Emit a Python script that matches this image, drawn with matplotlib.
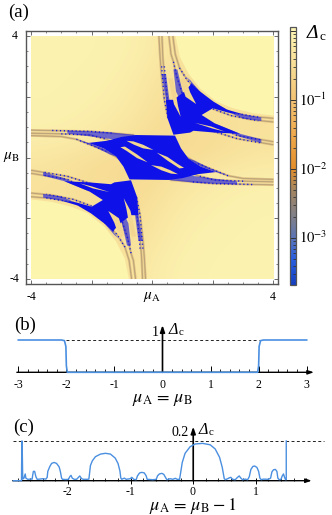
import numpy as np
import matplotlib
matplotlib.use('Agg')
import matplotlib.pyplot as plt
from matplotlib.colors import LinearSegmentedColormap, LogNorm
from matplotlib.colorbar import Colorbar
from matplotlib.ticker import LogLocator, FixedLocator, NullFormatter

plt.rcParams['font.family'] = ['Liberation Serif', 'DejaVu Serif']
plt.rcParams['mathtext.fontset'] = 'stix'

W, H = 332, 515
BLUE = '#0E12E8'
LINE = '#4A8FE0'
PALE = '#FBF5AE'
GOLD = '#F3D68F'

# log10 of the smooth background of panel (a); rows y=4..-4, columns x=-4..4
bg_row_p4 = [-.03, -.03, -.04, -.07, -.18, -.40, -.35, -.03, -.03]
bg_row_p3 = [-.03, -.04, -.06, -.12, -.30, -.50, -.40, -.35, -.03]
bg_row_p2 = [-.04, -.06, -.10, -.20, -.40, -.50, -.45, -.40, -.40]
bg_row_p1 = [-.08, -.12, -.20, -.32, -.50, -.55, -.50, -.45, -.40]
bg_row_00 = [-.30, -.40, -.50, -.55, -.60, -.55, -.50, -.40, -.30]
bg_row_m1 = bg_row_p1[::-1]
bg_row_m2 = bg_row_p2[::-1]
bg_row_m3 = bg_row_p3[::-1]
bg_row_m4 = bg_row_p4[::-1]

# outer edge of the gapped region (upper right; the lower left mirrors it)
edge_x = [0.77, 0.91, 1.19, 1.57, 2.12, 2.67, 3.33, 4.0]
edge_y = [4.0, 3.32, 2.77, 2.28, 1.84, 1.62, 1.46, 1.38]

# solid low-gap region, upper right
ur_x = [.70, .50, .45, .70, 1.10, 1.30, 1.58, 2.02, 2.46, 3.0, 2.5, 2.0, 1.63, 2.07, 2.9, 2.07, 1.36, 1.25]
ur_y = [.75, 1.30, 1.90, 1.90, 2.20, 2.44, 2.17, 1.84, 1.58, 1.42, 1.48, 1.62, 1.40, 1.12, .78, .82, .88, .82]
# solid low-gap region, centre
mid_x = [.752, .95, 1.19, 1.6, 2.1, 1.5, 1.0, .53, -.75, -.95, -1.19, -1.6, -2.1, -1.5, -1.0, -.53]
mid_y = [.72, .30, -.03, -.30, -.48, -.55, -.68, -.74, -.72, -.30, .03, .30, .48, .55, .68, .74]

# bright slits cut into the solid regions
slits_ur = [
    ([.94, .72, .62, .53, .68, .78, .85], [1.34, 1.75, 2.2, 2.6, 2.6, 2.1, 1.7]),
    ([1.45, 1.10, .92, 1.08, 1.25], [1.76, 2.0, 2.55, 2.65, 2.15]),
    ([1.41, 2.0, 2.4, 1.95], [1.14, .95, .85, 1.02]),
]
slits_mid = [
    ([.04, -.30, -.62, -.85, -.60, -.30], [.25, .42, .53, .55, .42, .30]),
    ([-.15, -.50, -.90, -1.05, -.85, -.50], [-.16, .10, .36, .34, .22, -.02]),
]

# zones where blue dots mix with the strands
zones = [
    ([.31, .455, .61, .565, .455], [2.75, 2.75, 1.56, 1.34, 1.89]),
    ([.70, .83, 1.08, .92, .785], [2.9, 2.9, 1.84, 1.89, 2.17]),
    ([1.115, 1.25, 1.58, 1.30], [2.66, 2.55, 2.17, 2.44]),
    ([2.5, 3.0, 3.6, 3.6, 3.0], [1.50, 1.42, 1.32, 1.2, 1.28]),
    ([2.07, 2.9, 3.6, 3.6, 2.9], [1.12, .78, .60, .48, .68]),
    ([-.53, -1.5, -2.8, -2.8, -1.3, -.75], [.74, .84, .89, .79, .60, .30]),
    ([-1.19, -1.6, -2.1, -2.5, -1.9, -1.4], [.03, .30, .48, .60, .35, .10]),
]

# strands
strands = [
    ([.22, .26, .31, .40, .52], [4, 3.3, 2.66, 1.9, 1.3]),
    ([.32, .35, .40, .50, .62], [4, 3.3, 2.66, 1.9, 1.3]),
    ([.55, .62, .70, .81, 1.08, 1.2], [4, 3.4, 3.15, 2.66, 1.84, 1.6]),
    ([.68, .76, .90, 1.15, 1.5, 2.0, 2.6, 3.3, 4], [4, 3.4, 2.95, 2.55, 2.2, 1.78, 1.48, 1.35, 1.29]),
    ([2.0, 2.6, 3.3, 4], [1.60, 1.38, 1.24, 1.17]),
    ([1.6, 2.07, 2.8, 4], [1.25, 1.08, .72, .52]),
    ([1.4, 1.9, 2.8, 4], [1.0, .90, .62, .42]),
    ([-4, -3, -2.05, -1.3, -.6], [.90, .88, .86, .80, .74]),
    ([-4, -3, -2.05, -1.5, -1.0, -.5], [.80, .78, .74, .60, .35, .18]),
    ([-4, -3, -2.5, -2.05, -1.5, -1.0], [.72, .69, .60, .42, .20, -.10]),
]
speckle = [
    ([.31, .40, .52], [3.0, 1.9, 1.3]),
    ([.40, .50, .62], [3.0, 1.9, 1.3]),
    ([.70, .81, 1.08], [3.15, 2.66, 1.84]),
    ([.90, 1.15, 1.5, 2.0], [2.95, 2.55, 2.2, 1.78]),
    ([2.0, 2.6, 3.5], [1.78, 1.48, 1.33]),
    ([2.0, 2.6, 3.5], [1.60, 1.38, 1.21]),
    ([2.07, 2.8, 3.6], [1.08, .72, .58]),
    ([1.9, 2.8, 3.6], [.90, .62, .48]),
    ([-3.3, -2.05, -1.3], [.89, .86, .80]),
    ([-3.0, -2.05, -1.5], [.78, .74, .60]),
    ([-2.5, -2.05, -1.5], [.60, .42, .20]),
]

# panel (b)
xb = [-3.0, -2.1, -2.04, -2.01, -2.0, -1.98, 1.98, 2.0, 2.01, 2.04, 2.1, 3.0]
yb = [1.0, 1.0, 0.98, 0.8, 0.2, 0.0, 0.0, 0.2, 0.8, 0.98, 1.0, 1.0]
xb_ticks = [-3, -2, -1, 0, 1, 2, 3]

# panel (c)
xc = [-2.87, -2.74, -2.734, -2.73, -2.72, -2.70, -2.68, -2.67, -2.64, -2.60, -2.57, -2.56, -2.55, -2.53, -2.51,
      -2.49, -2.45, -2.40, -2.35, -2.33, -2.32, -2.29, -2.26, -2.22, -2.18, -2.14, -2.12, -2.10, -2.085, -2.03,
      -1.99, -1.97, -1.95, -1.93, -1.90, -1.86, -1.81, -1.78, -1.75, -1.69, -1.665, -1.655, -1.64, -1.61, -1.56,
      -1.48, -1.40, -1.32, -1.245, -1.20, -1.17, -1.155, -1.14, -1.10, -1.07, -1.005, -0.98, -0.95, -0.91, -0.89,
      -0.856, -0.82, -0.78, -0.75, -0.735, -0.645, -0.59, -0.57, -0.54, -0.50, -0.47, -0.436, -0.42, -0.367,
      -0.325, -0.287, -0.255, -0.218, -0.20, -0.175, -0.13, -0.05, 0.03, 0.15, 0.27, 0.35, 0.42, 0.463, 0.495,
      0.516, 0.58, 0.60, 0.628, 0.67, 0.707, 0.734, 0.76, 0.787, 0.83, 0.867, 0.894, 0.92, 0.952, 0.98, 1.016,
      1.043, 1.064, 1.085, 1.12, 1.20, 1.234, 1.255, 1.28, 1.31, 1.335, 1.35, 1.372, 1.40, 1.42, 1.44, 1.457,
      1.473, 1.484, 1.484]
yc = [.0, .0, .2, .2, .008, .013, .034, .013, .007, .008, .008, .03, .047, .047, .02,
      .007, .008, .010, .008, .017, .047, .07, .087, .092, .087, .07, .047, .013, .007, .006,
      .007, .02, .027, .013, .007, .007, .024, .01, .007, .007, .008, .034, .076, .10, .121,
      .134, .138, .134, .114, .087, .05, .013, .007, .013, .007, .01, .017, .007, .005, .024,
      .039, .042, .039, .024, .007, .005, .007, .024, .034, .037, .032, .013, .005, .01,
      .007, .012, .007, .007, .042, .092, .138, .171, .185, .188, .181, .16, .118, .067, .01,
      .005, .015, .017, .007, .005, .017, .024, .013, .005, .008, .005, .02, .057, .072, .074, .067,
      .047, .013, .005, .008, .007, .013, .044, .055, .057, .047, .013, .005, .007, .024, .034, .017,
      .005, .005, .2]
xc_ticks = [-2, -1, 0, 1]

cbar_colors = [(-3.68, '#1440C0'), (-3.3, '#2A5FE0'), (-3.0, '#5A74B8'), (-2.7, '#80808A'),
               (-2.3, '#A58660'), (-2.0, '#E48E2A'), (-1.5, '#EFA94C'), (-1.0, '#F3C272'),
               (-0.5, '#F7DD96'), (0.06, '#FDF6B5')]


def axpx(l, t, r, b):
    return fig.add_axes([l / W, 1 - b / H, (r - l) / W, (b - t) / H])


fig = plt.figure(figsize=(W / 100, H / 100), dpi=100)


def label(px, py, s, size, **kw):
    fig.text(px / W, 1 - py / H, s, fontsize=size, ha='center', va='center', **kw)


def delta(px, py, size):
    label(px, py, '\u0394', size, style='italic')
    label(px + size * 0.72, py + size * 0.22, 'c', size * 0.68)


cmap = LinearSegmentedColormap.from_list(
    'gap', [((v + 3.68) / 3.74, c) for v, c in cbar_colors])
norm = LogNorm(10 ** -3.68, 10 ** 0.06)

# ---- panel (a)
ax = axpx(26, 31, 278, 284)
grid = np.array([bg_row_p4, bg_row_p3, bg_row_p2, bg_row_p1, bg_row_00,
                 bg_row_m1, bg_row_m2, bg_row_m3, bg_row_m4])
ax.imshow(10.0 ** grid, extent=[-4, 4, -4, 4], origin='upper', cmap=cmap, norm=norm,
          interpolation='bicubic', aspect='auto', zorder=1)
for s in (1, -1):
    ax.fill(np.array(edge_x + [4.0]) * s, np.array(edge_y + [4.0]) * s, color=PALE, lw=0, zorder=2)
    for sx, sy in strands:
        ax.plot(np.array(sx) * s, np.array(sy) * s, color='#DFC084', lw=1.7, zorder=3, solid_capstyle='butt')
    for sx, sy in strands:
        ax.plot(np.array(sx) * s, np.array(sy) * s, color='#B6A079', lw=0.6, zorder=3, solid_capstyle='butt')
    for zx, zy in zones:
        ax.fill(np.array(zx) * s, np.array(zy) * s, color=BLUE, alpha=0.6, lw=0, zorder=4)
    ax.fill(np.array(ur_x) * s, np.array(ur_y) * s, color=BLUE, lw=0, zorder=5)
    for sx, sy in slits_ur + slits_mid:
        ax.fill(np.array(sx) * s, np.array(sy) * s, color=GOLD, lw=0, zorder=6)
    for sx, sy in speckle:
        ax.plot(np.array(sx) * s, np.array(sy) * s, color=BLUE, lw=1.0, ls=(0, (0.8, 2.0)), zorder=7)
ax.fill(mid_x, mid_y, color=BLUE, lw=0, zorder=5)

ax.set_xlim(-4.165, 4.15)
ax.set_ylim(-4.165, 4.165)
for sp in ax.spines.values():
    sp.set_color('#555555')
    sp.set_linewidth(1.0)
ax.set_xticks([-4, -2, 0, 2, 4])
ax.set_yticks([-4, -2, 0, 2, 4])
ax.set_xticks(np.arange(-4, 4.01, 0.5), minor=True)
ax.set_yticks(np.arange(-4, 4.01, 0.5), minor=True)
ax.tick_params(which='major', direction='in', length=3, width=0.6, color='#555555',
               top=True, right=True, labelbottom=False, labelleft=False)
ax.tick_params(which='minor', direction='in', length=1.5, width=0.5, color='#555555', top=True, right=True)

label(19, 12, '(a)', 13.5)
label(15, 36, '4', 8.5)
label(14, 279, '-4', 8.5)
label(31, 297, '-4', 8.5)
label(273, 297, '4', 8.5)
label(152, 297, r'$\mu_{\mathrm{A}}$', 11)
label(11, 157, r'$\mu_{\mathrm{B}}$', 11)

# ---- colour bar
cax = axpx(290, 27, 296, 285)
cb = Colorbar(cax, cmap=cmap, norm=norm, orientation='vertical')
cb.outline.set_edgecolor('#555555')
cb.outline.set_linewidth(0.9)
cax.yaxis.set_major_locator(FixedLocator([1e-3, 1e-2, 1e-1, 1]))
cax.yaxis.set_minor_locator(LogLocator(base=10, subs=np.arange(2, 10) * 0.1, numticks=12))
cax.yaxis.set_minor_formatter(NullFormatter())
cax.yaxis.set_major_formatter(NullFormatter())
cax.tick_params(which='major', direction='in', length=4, width=0.7, color='#333333', right=True)
cax.tick_params(which='minor', direction='in', length=2.5, width=0.6, color='#333333', right=True)
label(313, 100, r'$10^{-1}$', 10.5)
label(313, 170, r'$10^{-2}$', 10.5)
label(313, 238, r'$10^{-3}$', 10.5)
delta(312, 34, 14)


def arrow_axes(a, x0, x1, y1):
    for sp in a.spines.values():
        sp.set_visible(False)
    a.patch.set_visible(False)
    a.annotate('', xy=(x1, 0), xytext=(x0, 0), annotation_clip=False,
               arrowprops=dict(arrowstyle='-|>,head_width=0.12,head_length=0.35', color='black', lw=1.0, shrinkA=0, shrinkB=0))
    a.annotate('', xy=(0, y1), xytext=(0, 0), annotation_clip=False,
               arrowprops=dict(arrowstyle='-|>,head_width=0.14,head_length=0.4', color='black', lw=1.2, shrinkA=0, shrinkB=0))
    a.set_yticks([])


# ---- panel (b)
axb = axpx(18.3, 340, 306.7, 372.3)
axb.set_xlim(-3, 3)
axb.set_ylim(0, 1)
arrow_axes(axb, -3.03, 3.15, 1.46)
axb.plot([-2, 2], [1, 1], color='#222222', lw=0.7, ls=(0, (3, 2.5)), zorder=1)
axb.plot(xb, yb, color=LINE, lw=1.2, zorder=3, clip_on=False)
axb.set_xticks(xb_ticks)
axb.set_xticks(np.arange(-3, 3.01, 0.2), minor=True)
axb.tick_params(axis='x', which='major', direction='in', length=4, width=0.7, labelbottom=False)
axb.tick_params(axis='x', which='minor', direction='in', length=2, width=0.6)
for v in xb_ticks:
    label(18.3 + (v + 3) * 48.07, 385, str(v), 8.5)
label(25, 325, '(b)', 13.5)
label(155, 332, '1', 10)
delta(173, 330, 11.5)
label(162, 400, r'$\mu_{\mathrm{A}}\,=\,\mu_{\mathrm{B}}$', 13)

# ---- panel (c)
axc = axpx(12.7, 441, 311.7, 480.7)
axc.set_xlim(-2.88, 1.89)
axc.set_ylim(0, 0.2)
arrow_axes(axc, -2.88, 1.89, 0.272)
axc.plot([-2.88, 2.09], [0.2, 0.2], color='#222222', lw=0.7, ls=(0, (3, 2.5)), zorder=1, clip_on=False)
axc.plot(xc, yc, color=LINE, lw=1.0, zorder=3, clip_on=False)
axc.set_xticks(xc_ticks)
axc.set_xticks(np.arange(-2.8, 1.81, 0.2), minor=True)
axc.tick_params(axis='x', which='major', direction='inout', length=5, width=0.7, labelbottom=False)
axc.tick_params(axis='x', which='minor', direction='in', length=2, width=0.6)
for v in xc_ticks:
    label(193 + v * 62.7, 492, str(v), 8.5)
label(24, 427, '(c)', 13.5)
label(180, 433, '0.2', 10)
delta(203, 430, 11.5)
label(193, 506.5, r'$\mu_{\mathrm{A}}\,=\,\mu_{\mathrm{B}}-1$', 13)

fig.savefig('out.png', dpi=100)
